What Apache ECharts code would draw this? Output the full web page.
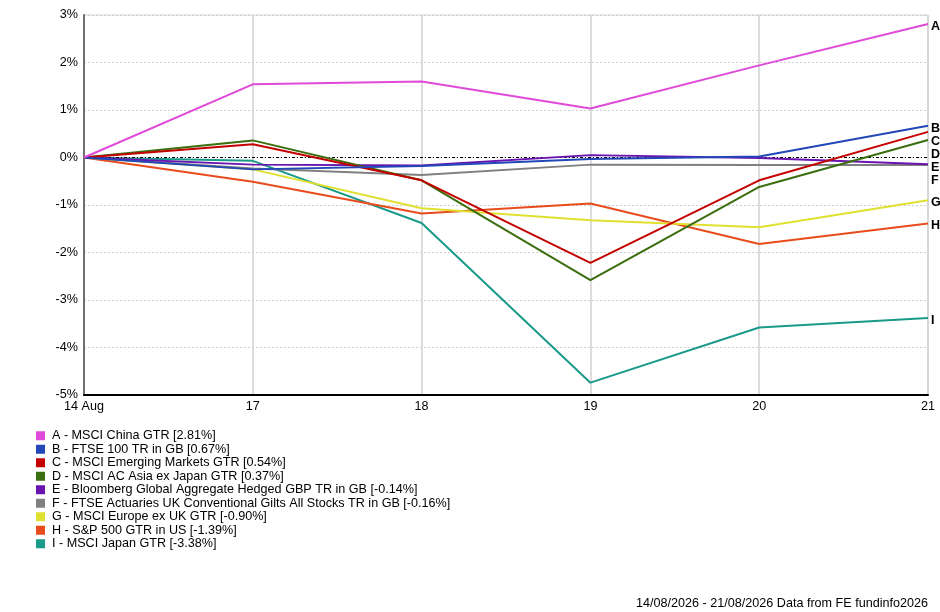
<!DOCTYPE html>
<html>
<head>
<meta charset="utf-8">
<script src="https://cdn.jsdelivr.net/npm/echarts@6/dist/echarts.min.js"></script>
<style>
html,body{margin:0;padding:0;background:#fff;}
#chart{width:940px;height:612px;}
</style>
</head>
<body>
<div id="chart"></div>
<script>
var dates = ['14 Aug', '17', '18', '19', '20', '21'];
var yTicks = [-5, -4, -3, -2, -1, 0, 1, 2, 3];

var letters = ['A', 'B', 'C', 'D', 'E', 'F', 'G', 'H', 'I'];
var names = [
  'A - MSCI China GTR [2.81%]',
  'B - FTSE 100 TR in GB [0.67%]',
  'C - MSCI Emerging Markets GTR [0.54%]',
  'D - MSCI AC Asia ex Japan GTR [0.37%]',
  'E - Bloomberg Global Aggregate Hedged GBP TR in GB [-0.14%]',
  'F - FTSE Actuaries UK Conventional Gilts All Stocks TR in GB [-0.16%]',
  'G - MSCI Europe ex UK GTR [-0.90%]',
  'H - S&P 500 GTR in US [-1.39%]',
  'I - MSCI Japan GTR [-3.38%]'
];
var colors = ['#e04ad8', '#2248b8', '#c40000', '#3a6e0e', '#6a14b0', '#808080', '#e0e030', '#e84c1c', '#1a9a88'];

var seriesA = [0, 1.54, 1.60, 1.03, 1.94, 2.81];
var seriesB = [0, -0.25, -0.18, -0.03, 0.02, 0.67];
var seriesC = [0, 0.28, -0.48, -2.22, -0.48, 0.54];
var seriesD = [0, 0.36, -0.48, -2.58, -0.62, 0.37];
var seriesE = [0, -0.15, -0.17, 0.05, -0.01, -0.14];
var seriesF = [0, -0.23, -0.37, -0.15, -0.16, -0.16];
var seriesG = [0, -0.25, -1.07, -1.32, -1.47, -0.90];
var seriesH = [0, -0.51, -1.18, -0.97, -1.82, -1.39];
var seriesI = [0, -0.07, -1.38, -4.74, -3.58, -3.38];

var allData = [seriesA, seriesB, seriesC, seriesD, seriesE, seriesF, seriesG, seriesH, seriesI];

var FONT = '"Liberation Sans", Arial, sans-serif';

var series = [{
  name: 'zero',
  type: 'line',
  data: [],
  z: 1,
  markLine: {
    silent: true,
    symbol: 'none',
    label: { show: false },
    lineStyle: { color: '#000', width: 1, type: [3, 2, 1, 2] },
    data: [{ yAxis: 0 }]
  }
}];

allData.forEach(function (d, i) {
  series.push({
    name: names[i],
    type: 'line',
    data: d,
    symbol: 'none',
    z: 10 - i,
    lineStyle: { color: colors[i], width: 2 },
    itemStyle: { color: colors[i] },
    endLabel: {
      show: true,
      formatter: letters[i],
      color: '#000',
      fontWeight: 'bold',
      fontSize: 12.5,
      fontFamily: FONT,
      distance: 3,
      offset: [0, 2.5]
    },
    labelLayout: { moveOverlap: 'shiftY' }
  });
});

var chart = echarts.init(document.getElementById('chart'), null, { renderer: 'canvas' });
chart.setOption({
  animation: false,
  backgroundColor: '#fff',
  grid: {
    left: 84, right: 12, top: 15, bottom: 217,
    show: true, borderColor: '#d4d4d4', borderWidth: 1
  },
  legend: {
    orient: 'vertical',
    left: 36, top: 429,
    padding: 0,
    data: names,
    selectedMode: false,
    icon: 'rect',
    itemWidth: 9, itemHeight: 9,
    itemGap: 0,
    textStyle: { fontSize: 12.6, fontFamily: FONT, color: '#000', lineHeight: 13.5, padding: [0, 0, 0, 2] }
  },
  title: {
    text: '14/08/2026 - 21/08/2026 Data from FE fundinfo2026',
    right: 12, top: 597,
    padding: 0,
    textStyle: { fontSize: 12.6, fontWeight: 'normal', fontFamily: FONT, color: '#000' }
  },
  xAxis: {
    type: 'category',
    data: dates,
    boundaryGap: false,
    axisLine: { onZero: false, lineStyle: { color: '#000', width: 2 } },
    axisTick: { show: false },
    axisLabel: { color: '#000', fontSize: 12.6, fontFamily: FONT, margin: 5, showMaxLabel: true, showMinLabel: true, interval: 0 },
    splitLine: { show: true, lineStyle: { color: '#d0d0d0', width: 1.5 } }
  },
  yAxis: {
    type: 'value',
    min: yTicks[0], max: yTicks[yTicks.length - 1], interval: 1,
    axisLine: { show: true, lineStyle: { color: '#707070', width: 2 } },
    axisTick: { show: false },
    axisLabel: { color: '#000', fontSize: 12.6, fontFamily: FONT, margin: 6, formatter: '{value}%' },
    splitLine: { show: true, lineStyle: { color: '#cfcfcf', width: 1, type: [2, 2] } }
  },
  series: series
});
</script>
</body>
</html>
